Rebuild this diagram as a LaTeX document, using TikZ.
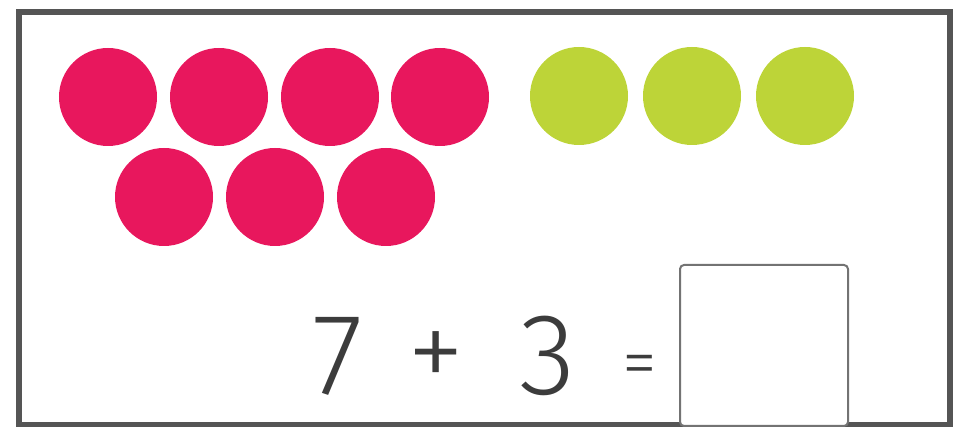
\documentclass[tikz,border=0pt]{standalone}
\usepackage{fontspec}
\newfontfamily\sumfont{Fira Sans Light}
\usetikzlibrary{positioning}

\definecolor{dotred}{HTML}{E8175D}
\definecolor{dotgreen}{HTML}{BDD438}
\definecolor{framegray}{HTML}{555555}
\definecolor{inkgray}{HTML}{3C3C3C}

\begin{document}
\begin{tikzpicture}[
 x=0.2mm,y=-0.2mm,
 counter/.style={
  circle,
  inner sep=0pt,
  minimum size=19.6mm
 },
 redcount/.style={counter,fill=dotred},
 greencount/.style={counter,fill=dotgreen},
 sumtext/.style={
  anchor=base,
  text=inkgray,
  font=\sumfont\fontsize{66}{70}\selectfont
 },
 answerbox/.style={
  draw=black!55,
  line width=0.4mm,
  rounded corners=0.8mm,
  fill=white
 }
]
 \useasboundingbox (0,0) rectangle (961,427);
 \draw[framegray,line width=1.2mm] (19,12) rectangle (950,425);

 % seven red counters
 \node[redcount] (r1) at (108,97) {};
 \node[redcount] (r2) at (219,97) {};
 \node[redcount] (r3) at (330,97) {};
 \node[redcount] (r4) at (440,97) {};
 \node[redcount] (r5) at (164,197) {};
 \node[redcount] (r6) at (275,197) {};
 \node[redcount] (r7) at (386,197) {};

 % three green counters
 \node[greencount] (g1) at (579,96) {};
 \node[greencount] (g2) at (692,96) {};
 \node[greencount] (g3) at (805,96) {};

 % number sentence
 \node[sumtext] (seven) at (338,395) {7};
 \node[sumtext] (plus)  at (436,391) {+};
 \node[sumtext] (three) at (548,395) {3};
 \node[sumtext,font=\sumfont\fontsize{40}{44}\selectfont] (eq) at (640,387) {=};
 \draw[answerbox] (680,265) rectangle (848,426);
 \coordinate (ans) at (764,345);
\end{tikzpicture}
\end{document}
